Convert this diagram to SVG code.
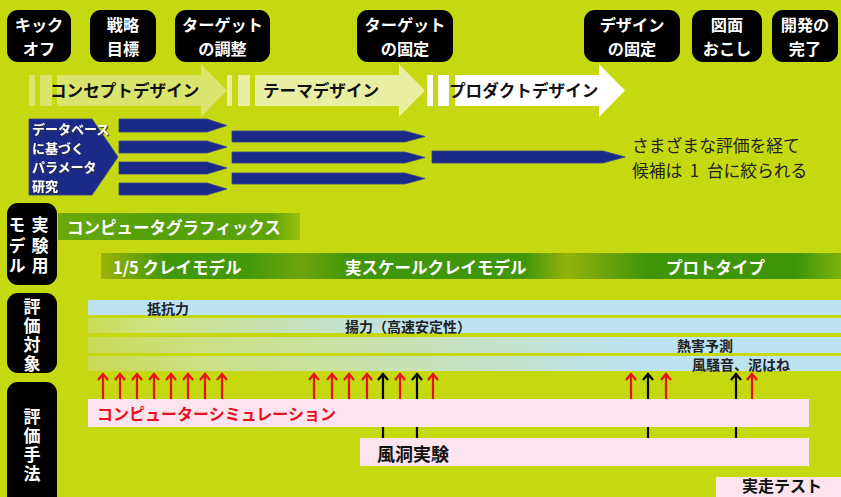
<svg xmlns="http://www.w3.org/2000/svg" width="841" height="497" viewBox="0 0 841 497">
<style>
text{font-family:"Noto Sans CJK JP","Noto Sans",sans-serif;font-weight:bold;dominant-baseline:central}
.ms{fill:#000}
.wt{fill:#fff;font-size:16.2px;text-anchor:middle}
.vt{fill:#fff;font-size:17px;writing-mode:vertical-rl}
.ch{fill:#111;font-size:16.6px}
.bl{fill:#1b2a88;stroke:#34468a;stroke-width:0.8}
.bt{fill:#fff;font-size:13px;filter:url(#sh)}
.desc{fill:#222;font-size:16.8px;font-weight:normal}
.gt{fill:#fff;font-size:16.5px}
.ev{fill:#222;font-size:14px}
.arr{fill:none;stroke-width:2.2}
.red{stroke:#e8101e}
.blk{stroke:#000}
.pink{fill:#fbe4ed}
</style>
<defs>
<filter id="sh" x="-10%" y="-10%" width="130%" height="140%"><feDropShadow dx="1.2" dy="1.2" stdDeviation="0.6" flood-color="#333" flood-opacity="0.9"/></filter>
<linearGradient id="cg" x1="0" x2="1" y1="0" y2="0"><stop offset="0" stop-color="#6aa80b"/><stop offset="0.4" stop-color="#53a008"/><stop offset="0.88" stop-color="#5ea30a"/><stop offset="1" stop-color="#9cc00d"/></linearGradient>
<linearGradient id="clay" x1="0" x2="1" y1="0" y2="0"><stop offset="0" stop-color="#9db30b"/><stop offset="0.09" stop-color="#3f960a"/><stop offset="0.2" stop-color="#459a0a"/><stop offset="0.27" stop-color="#6ea40b"/><stop offset="0.34" stop-color="#3f960a"/><stop offset="0.57" stop-color="#3f960a"/><stop offset="0.63" stop-color="#94b10b"/><stop offset="0.74" stop-color="#3e950a"/><stop offset="0.94" stop-color="#3e950a"/><stop offset="1" stop-color="#7db20b"/></linearGradient>
<linearGradient id="b2" x1="0" x2="1" y1="0" y2="0"><stop offset="0" stop-color="#c9dc55"/><stop offset="0.08" stop-color="#cfe283"/><stop offset="0.3" stop-color="#c6e2c4"/><stop offset="0.45" stop-color="#bde3f0"/></linearGradient>
<linearGradient id="b3" x1="0" x2="1" y1="0" y2="0"><stop offset="0" stop-color="#c8da55"/><stop offset="0.15" stop-color="#cde085"/><stop offset="0.55" stop-color="#c5e2cc"/><stop offset="0.72" stop-color="#bde3f0"/></linearGradient>
<g id="ar"><path d="M0,0 V26 M-5,7 L0,1 L5,7"/></g>
</defs>
<rect width="841" height="497" fill="#c6d80f"/>

<!-- milestones -->
<g id="m1"><rect class="ms" x="7" y="10" width="64" height="52" rx="11"/><text class="wt" x="39" y="24.2">キック</text><text class="wt" x="39" y="47.8">オフ</text></g>
<g id="m2"><rect class="ms" x="90" y="10" width="66" height="52" rx="11"/><text class="wt" x="123" y="24.2">戦略</text><text class="wt" x="123" y="47.8">目標</text></g>
<g id="m3"><rect class="ms" x="175" y="10" width="95" height="52" rx="11"/><text class="wt" x="222.5" y="24.2">ターゲット</text><text class="wt" x="222.5" y="47.8">の調整</text></g>
<g id="m4"><rect class="ms" x="357" y="10" width="96" height="52" rx="11"/><text class="wt" x="405" y="24.2">ターゲット</text><text class="wt" x="405" y="47.8">の固定</text></g>
<g id="m5"><rect class="ms" x="584" y="10" width="96" height="52" rx="11"/><text class="wt" x="632" y="24.2">デザイン</text><text class="wt" x="632" y="47.8">の固定</text></g>
<g id="m6"><rect class="ms" x="692" y="10" width="70" height="52" rx="11"/><text class="wt" x="727" y="24.2">図面</text><text class="wt" x="727" y="47.8">おこし</text></g>
<g id="m7"><rect class="ms" x="772" y="10" width="66" height="52" rx="11"/><text class="wt" x="805" y="24.2">開発の</text><text class="wt" x="805" y="47.8">完了</text></g>

<!-- design phases -->
<g id="p1" fill="#d9e46c"><rect x="29" y="75" width="6" height="31"/><rect x="40" y="75" width="12" height="31"/><path d="M57,75 H201 V64 L227,90.5 L201,117 V106 H57 Z"/><text class="ch" x="50" y="90">コンセプトデザイン</text></g>
<g id="p2" fill="#e8efa3"><rect x="227" y="75" width="5" height="31"/><rect x="238" y="75" width="12" height="31"/><path d="M255,75 H399 V64 L425,90.5 L399,117 V106 H255 Z"/><text class="ch" x="263" y="90">テーマデザイン</text></g>
<g id="p3" fill="#fff"><rect x="427" y="75" width="6" height="31"/><rect x="438" y="75" width="11" height="31"/><path d="M455,75 H599 V64 L625,90.5 L599,117 V106 H455 Z"/><text class="ch" x="449" y="90">プロダクトデザイン</text></g>

<!-- database research -->
<g id="db"><path class="bl" d="M29,119 H92 L118,157 L92,195 H29 Z"/><text class="bt" x="32" y="128.6">データベース</text><text class="bt" x="32" y="147.5">に基づく</text><text class="bt" x="32" y="166.4">パラメータ</text><text class="bt" x="32" y="185.3">研究</text></g>
<g id="arrows-blue">
<path class="bl" d="M119,119 H207 L227,125.5 L207,132 H119 Z"/>
<path class="bl" d="M119,141 H207 L227,147 L207,153 H119 Z"/>
<path class="bl" d="M119,162 H207 L227,168 L207,174 H119 Z"/>
<path class="bl" d="M119,183 H207 L227,189 L207,195 H119 Z"/>
<path class="bl" d="M232,131 H405 L425,136.5 L405,142 H232 Z"/>
<path class="bl" d="M232,152 H405 L425,157.5 L405,163 H232 Z"/>
<path class="bl" d="M232,173 H405 L425,178.5 L405,184 H232 Z"/>
<path class="bl" d="M432,151 H603 L625,157 L603,163 H432 Z"/>
</g>
<g id="note"><text class="desc" x="632" y="144.5">さまざまな評価を経て</text><text class="desc" x="632" y="169.5" xml:space="preserve">候補は  1  台に絞られる</text></g>

<!-- models -->
<g id="lab-model"><rect class="ms" x="7" y="203" width="50" height="82" rx="11"/>
<text class="vt" x="40" y="216.5" style="letter-spacing:3.5px">実験用</text>
<text class="vt" x="17" y="216.5" style="letter-spacing:3.5px">モデル</text></g>
<g id="cgbar"><rect x="58" y="213" width="242" height="27" fill="url(#cg)"/><text class="gt" x="67" y="227" font-size="16">コンピュータグラフィックス</text></g>
<g id="claybar"><rect x="101" y="253" width="740" height="26" fill="url(#clay)"/><text class="gt" x="113" y="267">1/5 クレイモデル</text><text class="gt" x="345" y="267">実スケールクレイモデル</text><text class="gt" x="666" y="267">プロトタイプ</text></g>

<!-- evaluation targets -->
<g id="lab-target"><rect class="ms" x="7" y="293" width="50" height="80" rx="11"/>
<text class="vt" x="32" y="298.5" style="letter-spacing:1.7px">評価対象</text></g>
<g id="t1"><rect x="88" y="300" width="753" height="15" fill="#bde3f0"/><text class="ev" x="147" y="308">抵抗力</text></g>
<g id="t2"><rect x="88" y="318" width="753" height="15" fill="url(#b2)"/><text class="ev" x="345" y="326">揚力（高速安定性）</text></g>
<g id="t3"><rect x="88" y="337" width="753" height="16" fill="url(#b3)"/><text class="ev" x="677" y="345">熱害予測</text></g>
<g id="t4"><rect x="88" y="356" width="753" height="15" fill="url(#b3)"/><text class="ev" x="692" y="363.5">風騒音、泥はね</text></g>

<!-- evaluation methods -->
<g id="lab-method"><rect class="ms" x="7" y="382" width="50" height="130" rx="11"/>
<text class="vt" x="32" y="408.5" style="letter-spacing:1.7px">評価手法</text></g>

<g id="connectors">
<g class="arr blk"><path d="M383,399 V438 M417,399 V438 M648,399 V438 M736,399 V438"/></g>
<g class="arr red">
<use href="#ar" x="103" y="373"/><use href="#ar" x="120" y="373"/><use href="#ar" x="137" y="373"/><use href="#ar" x="154" y="373"/><use href="#ar" x="171" y="373"/><use href="#ar" x="188" y="373"/><use href="#ar" x="205" y="373"/><use href="#ar" x="222" y="373"/>
<use href="#ar" x="314" y="373"/><use href="#ar" x="332" y="373"/><use href="#ar" x="349" y="373"/><use href="#ar" x="367" y="373"/><use href="#ar" x="400" y="373"/><use href="#ar" x="433" y="373"/>
<use href="#ar" x="631" y="373"/><use href="#ar" x="666" y="373"/><use href="#ar" x="752" y="373"/>
</g>
<g class="arr blk"><use href="#ar" x="383" y="373"/><use href="#ar" x="417" y="373"/><use href="#ar" x="648" y="373"/><use href="#ar" x="736" y="373"/></g>
</g>

<g id="sim"><rect class="pink" x="88" y="399" width="721" height="28"/><text x="97" y="413" fill="#e8101e" font-size="16">コンピューターシミュレーション</text></g>
<g id="wind"><rect class="pink" x="360" y="438" width="449" height="28"/><text x="377" y="452.5" fill="#111" font-size="18">風洞実験</text></g>
<g id="road"><rect class="pink" x="716" y="477" width="125" height="25"/><text x="742" y="485" fill="#111" font-size="16">実走テスト</text></g>
</svg>
